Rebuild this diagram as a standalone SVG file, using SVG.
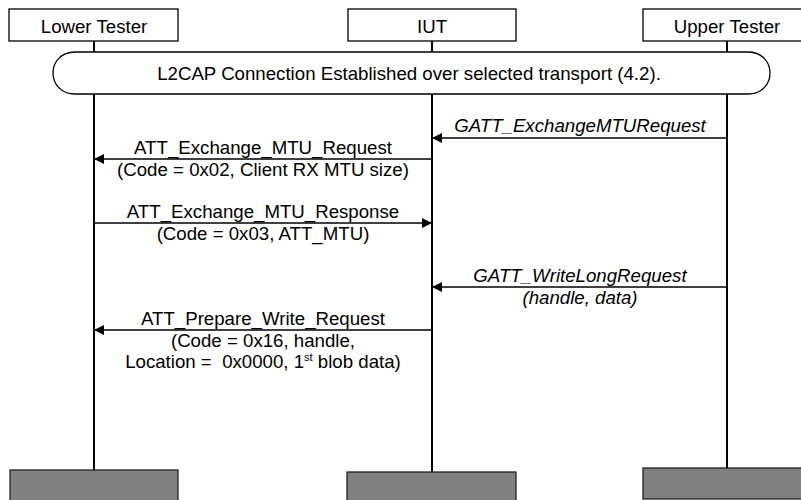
<svg xmlns="http://www.w3.org/2000/svg" width="801" height="500" viewBox="0 0 801 500">
<defs>
<style>
text{font-family:"Liberation Sans",Arial,sans-serif;font-size:18.67px;fill:#000;text-anchor:middle}
.it{font-style:italic}
.box{fill:#fff;stroke:#000;stroke-width:1.3}
.end{fill:#808080;stroke:#222;stroke-width:1.3}
.life{stroke:#000;stroke-width:2;fill:none}
.msg{stroke:#000;stroke-width:1.5;fill:none;marker-end:url(#ah)}
</style>
<marker id="ah" markerWidth="11" markerHeight="11" refX="10" refY="5" orient="auto" markerUnits="userSpaceOnUse">
<path d="M0,0 L10,5 L0,10 Z" fill="#000"/>
</marker>
</defs>
<rect width="801" height="500" fill="#fff"/>
<g id="lifelines">
<line class="life" x1="94" y1="41" x2="94" y2="470"/>
<line class="life" x1="432" y1="41" x2="432" y2="472"/>
<line class="life" x1="727" y1="41" x2="727" y2="468"/>
</g>
<g id="lower-tester">
<rect class="box" x="9" y="9" width="169" height="32"/>
<text x="94" y="33">Lower Tester</text>
<rect class="end" x="10" y="470" width="168" height="34"/>
</g>
<g id="iut">
<rect class="box" x="348" y="9" width="168" height="32"/>
<text x="432" y="33">IUT</text>
<rect class="end" x="347" y="472" width="169" height="34"/>
</g>
<g id="upper-tester">
<rect class="box" x="643" y="9" width="168" height="32"/>
<text x="727" y="33">Upper Tester</text>
<rect class="end" x="643" y="468" width="168" height="31"/>
</g>
<g id="banner">
<path class="box" d="M75,52 H748 C762,52 770,62 770,73 C770,84 762,94 748,94 H75 C61,94 53,84 53,73 C53,62 61,52 75,52 Z"/>
<text x="409" y="80">L2CAP Connection Established over selected transport (4.2).</text>
</g>
<g id="connectors">
<line class="msg" x1="727" y1="138" x2="432" y2="138"/>
<line class="msg" x1="432" y1="159" x2="94" y2="159"/>
<line class="msg" x1="94" y1="223" x2="432" y2="223"/>
<line class="msg" x1="727" y1="287" x2="432" y2="287"/>
<line class="msg" x1="432" y1="330" x2="94" y2="330"/>
</g>
<g id="labels">
<text class="it" x="580" y="132">GATT_ExchangeMTURequest</text>
<text x="263" y="154">ATT_Exchange_MTU_Request</text>
<text x="263" y="176">(Code = 0x02, Client RX MTU size)</text>
<text x="263" y="218">ATT_Exchange_MTU_Response</text>
<text x="263" y="240">(Code = 0x03, ATT_MTU)</text>
<text class="it" x="580" y="282">GATT_WriteLongRequest</text>
<text class="it" x="580" y="304">(handle, data)</text>
<text x="263" y="325">ATT_Prepare_Write_Request</text>
<text x="263" y="347">(Code = 0x16, handle,</text>
<text x="263" y="368" xml:space="preserve">Location =  0x0000, 1<tspan font-size="11" dy="-7">st</tspan><tspan dy="7"> blob data)</tspan></text>
</g>
</svg>
